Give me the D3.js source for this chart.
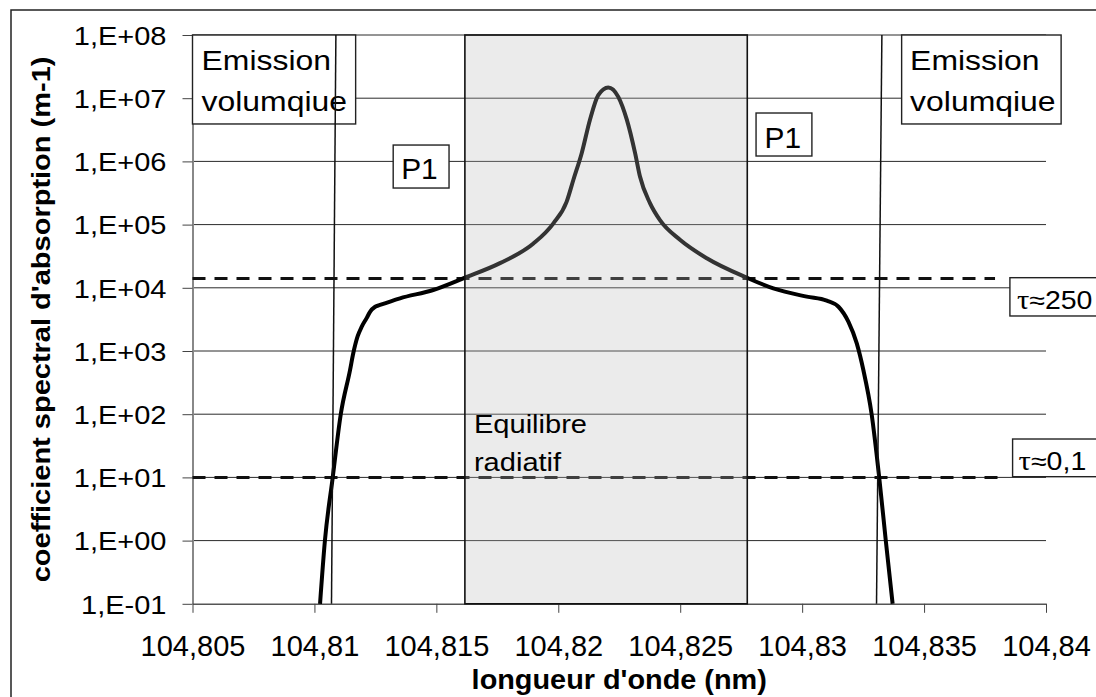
<!DOCTYPE html>
<html><head><meta charset="utf-8">
<script src="https://cdn.jsdelivr.net/npm/d3@7"></script>
<style>body{margin:0;background:#fff}svg{display:block}</style>
</head><body>
<svg id="c" width="1096" height="697"></svg>
<script>
// ---- data ----
const wavelengths = [104.81023,104.81043,104.81075,104.81108,104.81146,104.81159,104.81177,104.81194,104.81214,104.81228,104.81249,104.81269,104.81351,104.81487,104.81617,104.81761,104.81898,104.81980,104.82034,104.82062,104.82096,104.82130,104.82164,104.82205,104.82246,104.82281,104.82315,104.82335,104.82376,104.82417,104.82499,104.82609,104.82773,104.82882,104.83019,104.83101,104.83149,104.83190,104.83224,104.83251,104.83285,104.83316,104.83343,104.83371];
const absorption = [0.1,1,10,100,500,912,1700,2427,3311,4169,5012,5346,6823,9226,14454,24547,50119,104713,229087,512861,1.35e6,4.57e6,1.12e7,1.48e7,1.05e7,4.57e6,1.35e6,575440,218776,117490,57544,29309,14454,9772,7244,6252,5012,2884,1318,500,100,10,1,0.1];
const yTickValues = [1e-1,1e0,1e1,1e2,1e3,1e4,1e5,1e6,1e7,1e8];
const xTickValues = [104.805,104.81,104.815,104.82,104.825,104.83,104.835,104.84];
const xTickLabels = ["104,805","104,81","104,815","104,82","104,825","104,83","104,835","104,84"];
const thresholdValues = [14000, 10];
const thresholdEnds = [104.83791, 104.83803];
const thresholdLabels = ["≈250", "≈0,1"];
const equilibriumBand = [104.81617, 104.82775];
const emissionLimitTop = [104.81088, 104.83327];
const emissionLimitBottom = [104.81070, 104.83305];
const xTitle = "longueur d'onde (nm)";
const yTitle = "coefficient spectral d'absorption (m-1)";

const FONT = "'Liberation Sans', Arial, sans-serif";
const svg = d3.select('#c');
const x = d3.scaleLinear().domain([104.805, 104.84]).range([192.5, 1046]);
const y = d3.scaleLog().domain([0.1, 1e8]).range([603.8, 35]);

function stretch(sel, k){
  sel.each(function(){
    const l = this.getComputedTextLength();
    this.setAttribute('textLength', l*k);
    this.setAttribute('lengthAdjust','spacingAndGlyphs');
  });
}

// outer frame
svg.append('rect').attr('x',11).attr('y',10).attr('width',1100).attr('height',700)
  .attr('fill','none').attr('stroke','#222').attr('stroke-width',1.5);

// gridlines
svg.append('g').selectAll('line').data(yTickValues.slice(1)).join('line')
  .attr('x1', x(104.805)).attr('x2', x(104.84))
  .attr('y1', d=>y(d)).attr('y2', d=>y(d))
  .attr('stroke','#2a2a2a').attr('stroke-width',1);

// y axis
const fmt = d => { const e = Math.round(Math.log10(d)); return "1,E" + (e<0?"-":"+") + String(Math.abs(e)).padStart(2,"0"); };
const gy = svg.append('g').attr('transform',`translate(${x(104.805)},0)`)
  .call(d3.axisLeft(y).tickValues(yTickValues).tickSize(10).tickSizeOuter(0).tickPadding(16).tickFormat(fmt));
gy.select('.domain').attr('stroke','#888').attr('stroke-width',2);
gy.selectAll('.tick line').attr('stroke','#444').attr('stroke-width',1);
gy.selectAll('.tick text').attr('font-family',FONT).attr('font-size',25).attr('fill','#000').attr('dy','0.37em').call(stretch,1.16);

// x axis
const gx = svg.append('g').attr('transform',`translate(0,${y(0.1)})`)
  .call(d3.axisBottom(x).tickValues(xTickValues).tickSize(9).tickSizeOuter(0).tickPadding(23).tickFormat((d,i)=>xTickLabels[i]));
gx.select('.domain').attr('stroke','#555').attr('stroke-width',1.5);
gx.selectAll('.tick line').attr('stroke','#444').attr('stroke-width',1);
gx.selectAll('.tick text').attr('font-family',FONT).attr('font-size',29).attr('fill','#000');

// axis titles
svg.append('text').attr('x',(x(104.805)+x(104.84))/2).attr('y',689)
  .attr('text-anchor','middle').attr('font-family',FONT).attr('font-weight','bold').attr('font-size',28).text(xTitle)
  .call(stretch,1.03);
svg.append('text').attr('transform',`translate(50,${(y(0.1)+y(1e8))/2}) rotate(-90)`)
  .attr('text-anchor','middle').attr('font-family',FONT).attr('font-weight','bold').attr('font-size',25).text(yTitle)
  .call(stretch,1.16);

// threshold dashed lines
svg.append('g').selectAll('line').data(thresholdValues).join('line')
  .attr('x1', x(104.805)).attr('x2',(d,i)=>x(thresholdEnds[i]))
  .attr('y1', d=>y(d)).attr('y2', d=>y(d))
  .attr('stroke','#111').attr('stroke-width',3).attr('stroke-dasharray','13,9');

// absorption curve
const pts = wavelengths.map((w,i)=>[w, absorption[i]]);
svg.append('path').datum(pts)
  .attr('d', d3.line().x(d=>x(d[0])).y(d=>y(d[1])).curve(d3.curveMonotoneX))
  .attr('fill','none').attr('stroke','#000').attr('stroke-width',4).attr('stroke-linejoin','round');

// equilibrium band (translucent, over the curve)
svg.append('rect')
  .attr('x', x(equilibriumBand[0])).attr('y', y(1e8))
  .attr('width', x(equilibriumBand[1]) - x(equilibriumBand[0]))
  .attr('height', y(0.1) - y(1e8))
  .attr('fill','#b8b8b8').attr('fill-opacity',0.28)
  .attr('stroke','#111').attr('stroke-width',1.6);

// annotation boxes (data-space corners)
const boxes = [
  {x0:104.805,   x1:104.81169, y0:1e8,   y1:3.91e6, lines:["Emission","volumqiue"], dx:9, base:[35,76], size:28, k:1.14},
  {x0:104.83408, x1:104.84062, y0:1e8,   y1:3.91e6, lines:["Emission","volumqiue"], dx:8.5, base:[34.5,76], size:28, k:1.14},
  {x0:104.81323, x1:104.81552, y0:1.815e6, y1:3.79e5, lines:["P1"], dx:8, base:[34], size:29, k:1.03},
  {x0:104.82811, x1:104.83040, y0:5.83e6, y1:1.217e6, lines:["P1"], dx:8.5, base:[35], size:29, k:1.03}
];
boxes.forEach(b=>{
  const bx = x(b.x0), by = y(b.y0);
  svg.append('rect').attr('x',bx).attr('y',by).attr('width',x(b.x1)-bx).attr('height',y(b.y1)-by)
    .attr('fill','#fff').attr('stroke','#222').attr('stroke-width',1.4);
  b.lines.forEach((t,i)=>{
    svg.append('text').attr('x',bx+b.dx).attr('y',by+b.base[i])
      .attr('font-family',FONT).attr('font-size',b.size).attr('fill','#000').text(t).call(stretch,b.k);
  });
});

// tau boxes
const tauBoxes = [
  {x0:104.83852, y0:14454, y1:3581, dx:7, base:31.5},
  {x0:104.83863, y0:40.5,  y1:10.26, dx:6, base:30.5}
];
tauBoxes.forEach((b,i)=>{
  const bx = x(b.x0), by = y(b.y0);
  svg.append('rect').attr('x',bx).attr('y',by).attr('width',120).attr('height',y(b.y1)-by)
    .attr('fill','#fff').attr('stroke','#222').attr('stroke-width',1.4);
  const t = svg.append('text').attr('x',bx+b.dx).attr('y',by+b.base)
    .attr('font-family',FONT).attr('font-size',25).attr('fill','#000');
  t.append('tspan').attr('font-family',"'Liberation Serif','DejaVu Serif',serif").attr('font-size',27).text('τ');
  t.append('tspan').text(thresholdLabels[i]);
  stretch(t,1.14);
});

// "Equilibre radiatif"
const eq = svg.append('g').attr('font-family',FONT).attr('font-size',25.5).attr('fill','#000');
eq.append('text').attr('x',x(104.81654)).attr('y',y(50)).text('Equilibre').call(stretch,1.14);
eq.append('text').attr('x',x(104.81654)).attr('y',y(50)+37.4).text('radiatif').call(stretch,1.14);

// emission limit lines
svg.append('g').selectAll('line').data(emissionLimitTop).join('line')
  .attr('x1', d=>x(d)).attr('y1', y(1e8))
  .attr('x2', (d,i)=>x(emissionLimitBottom[i])).attr('y2', y(0.1))
  .attr('stroke','#111').attr('stroke-width',1.5);
</script>
</body></html>
